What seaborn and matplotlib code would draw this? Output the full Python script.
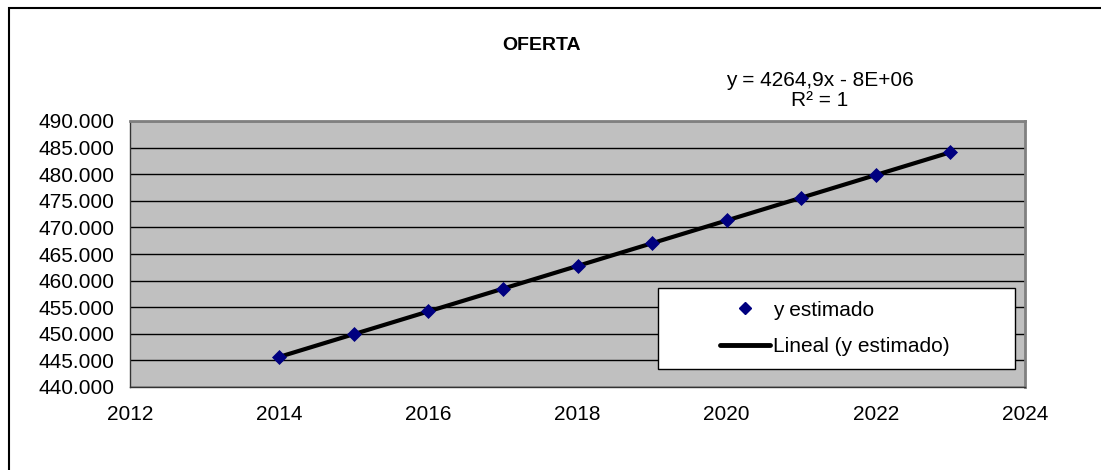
import matplotlib
matplotlib.use("Agg")
import matplotlib.pyplot as plt
import seaborn as sns
import pandas as pd
from matplotlib.ticker import FuncFormatter, MultipleLocator
from matplotlib.lines import Line2D
from matplotlib.patches import Rectangle

years = [2014, 2015, 2016, 2017, 2018, 2019, 2020, 2021, 2022, 2023]
y_estimado = [445700, 449900, 454200, 458500, 462700, 467000, 471300, 475600, 479900, 484100]
title = "OFERTA"
equation = "y = 4264,9x - 8E+06"
r2_text = "R² = 1"
series_label = "y estimado"
trend_label = "Lineal (y estimado)"

df = pd.DataFrame({"year": years, "y": y_estimado})

sns.set_style("white")
plt.rcParams["font.family"] = ["Liberation Sans", "DejaVu Sans"]
plt.rcParams["text.color"] = "black"

W, H = 1101, 470
fig = plt.figure(figsize=(11.01, 4.70), dpi=100)
ax_l, ax_r, ax_t, ax_b = 130, 1025, 121, 387
ax = fig.add_axes([ax_l / W, 1 - ax_b / H, (ax_r - ax_l) / W, (ax_b - ax_t) / H])
ax.set_facecolor("#C0C0C0")

def axx(px):
    return (px - ax_l) / (ax_r - ax_l)

def axy(py):
    return (ax_b - py) / (ax_b - ax_t)

# outer chart border (top and left visible)
fig.patches.append(Rectangle((9 / W, -0.1), 1.2, (H - 8) / H + 0.1,
                             transform=fig.transFigure, fill=False,
                             edgecolor="black", linewidth=1.5, zorder=0))

sns.regplot(data=df, x="year", y="y", ax=ax, ci=None, scatter=False,
            line_kws=dict(color="black", linewidth=3, zorder=3))
sns.scatterplot(data=df, x="year", y="y", ax=ax, marker="D", s=50,
                color="#000080", edgecolor="#000080", zorder=4, legend=False)

ax.set_xlim(2012, 2024)
ax.set_ylim(440000, 490000)
ax.xaxis.set_major_locator(MultipleLocator(2))
ax.yaxis.set_major_locator(MultipleLocator(5000))
ax.yaxis.set_major_formatter(FuncFormatter(lambda v, p: f"{int(v):,}".replace(",", ".")))
ax.grid(axis="y", color="black", linewidth=1)
ax.grid(axis="x", visible=False)
ax.set_axisbelow(True)
ax.set_xlabel("")
ax.set_ylabel("")
ax.tick_params(axis="both", direction="out", length=7, width=1, color="#333333",
               labelsize=15, labelcolor="black", pad=4)
ax.tick_params(axis="x", pad=6)
for side in ["left", "bottom"]:
    ax.spines[side].set_color("#333333")
    ax.spines[side].set_linewidth(1)
for side in ["top", "right"]:
    ax.spines[side].set_color("#808080")
    ax.spines[side].set_linewidth(2)

fig.text(542 / W, 1 - 46 / H, title, ha="center", va="center",
         fontsize=14, fontweight="bold", color="black")
fig.text(820 / W, 1 - 80 / H, equation, ha="center", va="center", fontsize=15, color="black")
fig.text(820 / W, 1 - 101 / H, r2_text, ha="center", va="center", fontsize=15, color="black")

# legend box
ax.add_patch(Rectangle((axx(658), axy(369)), axx(1015) - axx(658), axy(288) - axy(369),
                       transform=ax.transAxes, facecolor="white", edgecolor="black",
                       linewidth=1, zorder=5))
handles = [
    Line2D([], [], marker="D", linestyle="none", color="#000080", markersize=6),
    Line2D([], [], color="black", linewidth=3.5),
]
leg = ax.legend(handles, [series_label, trend_label],
                loc="center left", bbox_to_anchor=(axx(720), axy(328.5)),
                frameon=False, fontsize=15, handlelength=2.4, handletextpad=0.15,
                borderpad=0, labelspacing=0.85, borderaxespad=0)
leg.set_zorder(6)
for t in leg.get_texts():
    t.set_color("black")

fig.savefig("out.png", dpi=100)
